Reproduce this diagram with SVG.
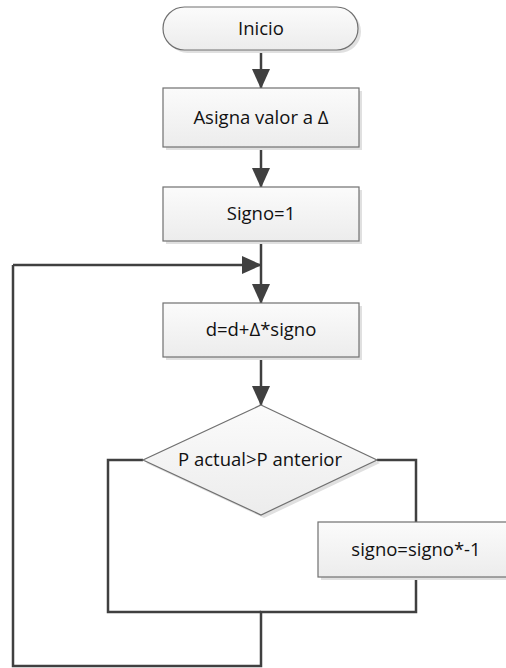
<svg xmlns="http://www.w3.org/2000/svg" width="506" height="668" viewBox="0 0 506 668">
  <defs>
    <linearGradient id="fill" x1="0" y1="0" x2="0" y2="1">
      <stop offset="0" stop-color="#fbfbfb"/>
      <stop offset="1" stop-color="#ececec"/>
    </linearGradient>
    <marker id="arrow" markerUnits="userSpaceOnUse" markerWidth="20" markerHeight="20" viewBox="0 0 20 18" refX="19" refY="9" orient="auto">
      <path d="M0,0 L20,9 L0,18 Z" fill="#404040"/>
    </marker>
    <style>
      .shape { fill: url(#fill); stroke: #707070; stroke-width: 1.2; }
      .shadow { fill: #e0e0e0; }
      .label { font-family: "Open Sans", "Liberation Sans", sans-serif; font-size: 18.5px; fill: #111; text-anchor: middle; }
      .wire { fill: none; stroke: #404040; stroke-width: 2.5; stroke-linejoin: miter; }
    </style>
  </defs>
  <rect width="506" height="668" fill="#ffffff"/>

  <!-- connectors -->
  <g id="connectors">
    <path class="wire" d="M261,50 V88" marker-end="url(#arrow)"/>
    <path class="wire" d="M261,147 V187" marker-end="url(#arrow)"/>
    <path class="wire" d="M261,241 V303" marker-end="url(#arrow)"/>
    <path class="wire" d="M13,265 H261" marker-end="url(#arrow)"/>
    <path class="wire" d="M261,357 V405" marker-end="url(#arrow)"/>
    <path class="wire" d="M143,460 H108 V612 H261"/>
    <path class="wire" d="M377,460 H416 V522"/>
    <path class="wire" d="M416,577 V612 H261 V666 H13 V265"/>
  </g>

  <g id="inicio">
    <rect class="shadow" x="166" y="10" width="195" height="43" rx="21.5"/>
    <rect class="shape" x="163" y="7" width="195" height="43" rx="21.5"/>
    <text class="label" x="261" y="35">Inicio</text>
  </g>

  <g id="asigna">
    <rect class="shadow" x="166" y="91" width="196" height="59"/>
    <rect class="shape" x="163" y="88" width="196" height="59"/>
    <text class="label" x="261" y="124">Asigna valor a Δ</text>
  </g>

  <g id="signo-inicial">
    <rect class="shadow" x="166" y="190" width="196" height="54"/>
    <rect class="shape" x="163" y="187" width="196" height="54"/>
    <text class="label" x="261" y="220">Signo=1</text>
  </g>

  <g id="actualiza-d">
    <rect class="shadow" x="166" y="306" width="196" height="54"/>
    <rect class="shape" x="163" y="303" width="196" height="54"/>
    <text class="label" x="261" y="336">d=d+Δ*signo</text>
  </g>

  <g id="decision">
    <polygon class="shadow" points="264,408 380,463 264,518 146,463"/>
    <polygon class="shape" points="261,405 377,460 261,515 143,460"/>
    <text class="label" x="260" y="466">P actual&gt;P anterior</text>
  </g>

  <g id="invierte-signo">
    <rect class="shadow" x="321" y="525" width="196" height="55"/>
    <rect class="shape" x="318" y="522" width="196" height="55"/>
    <text class="label" x="416" y="556">signo=signo*-1</text>
  </g>
</svg>
